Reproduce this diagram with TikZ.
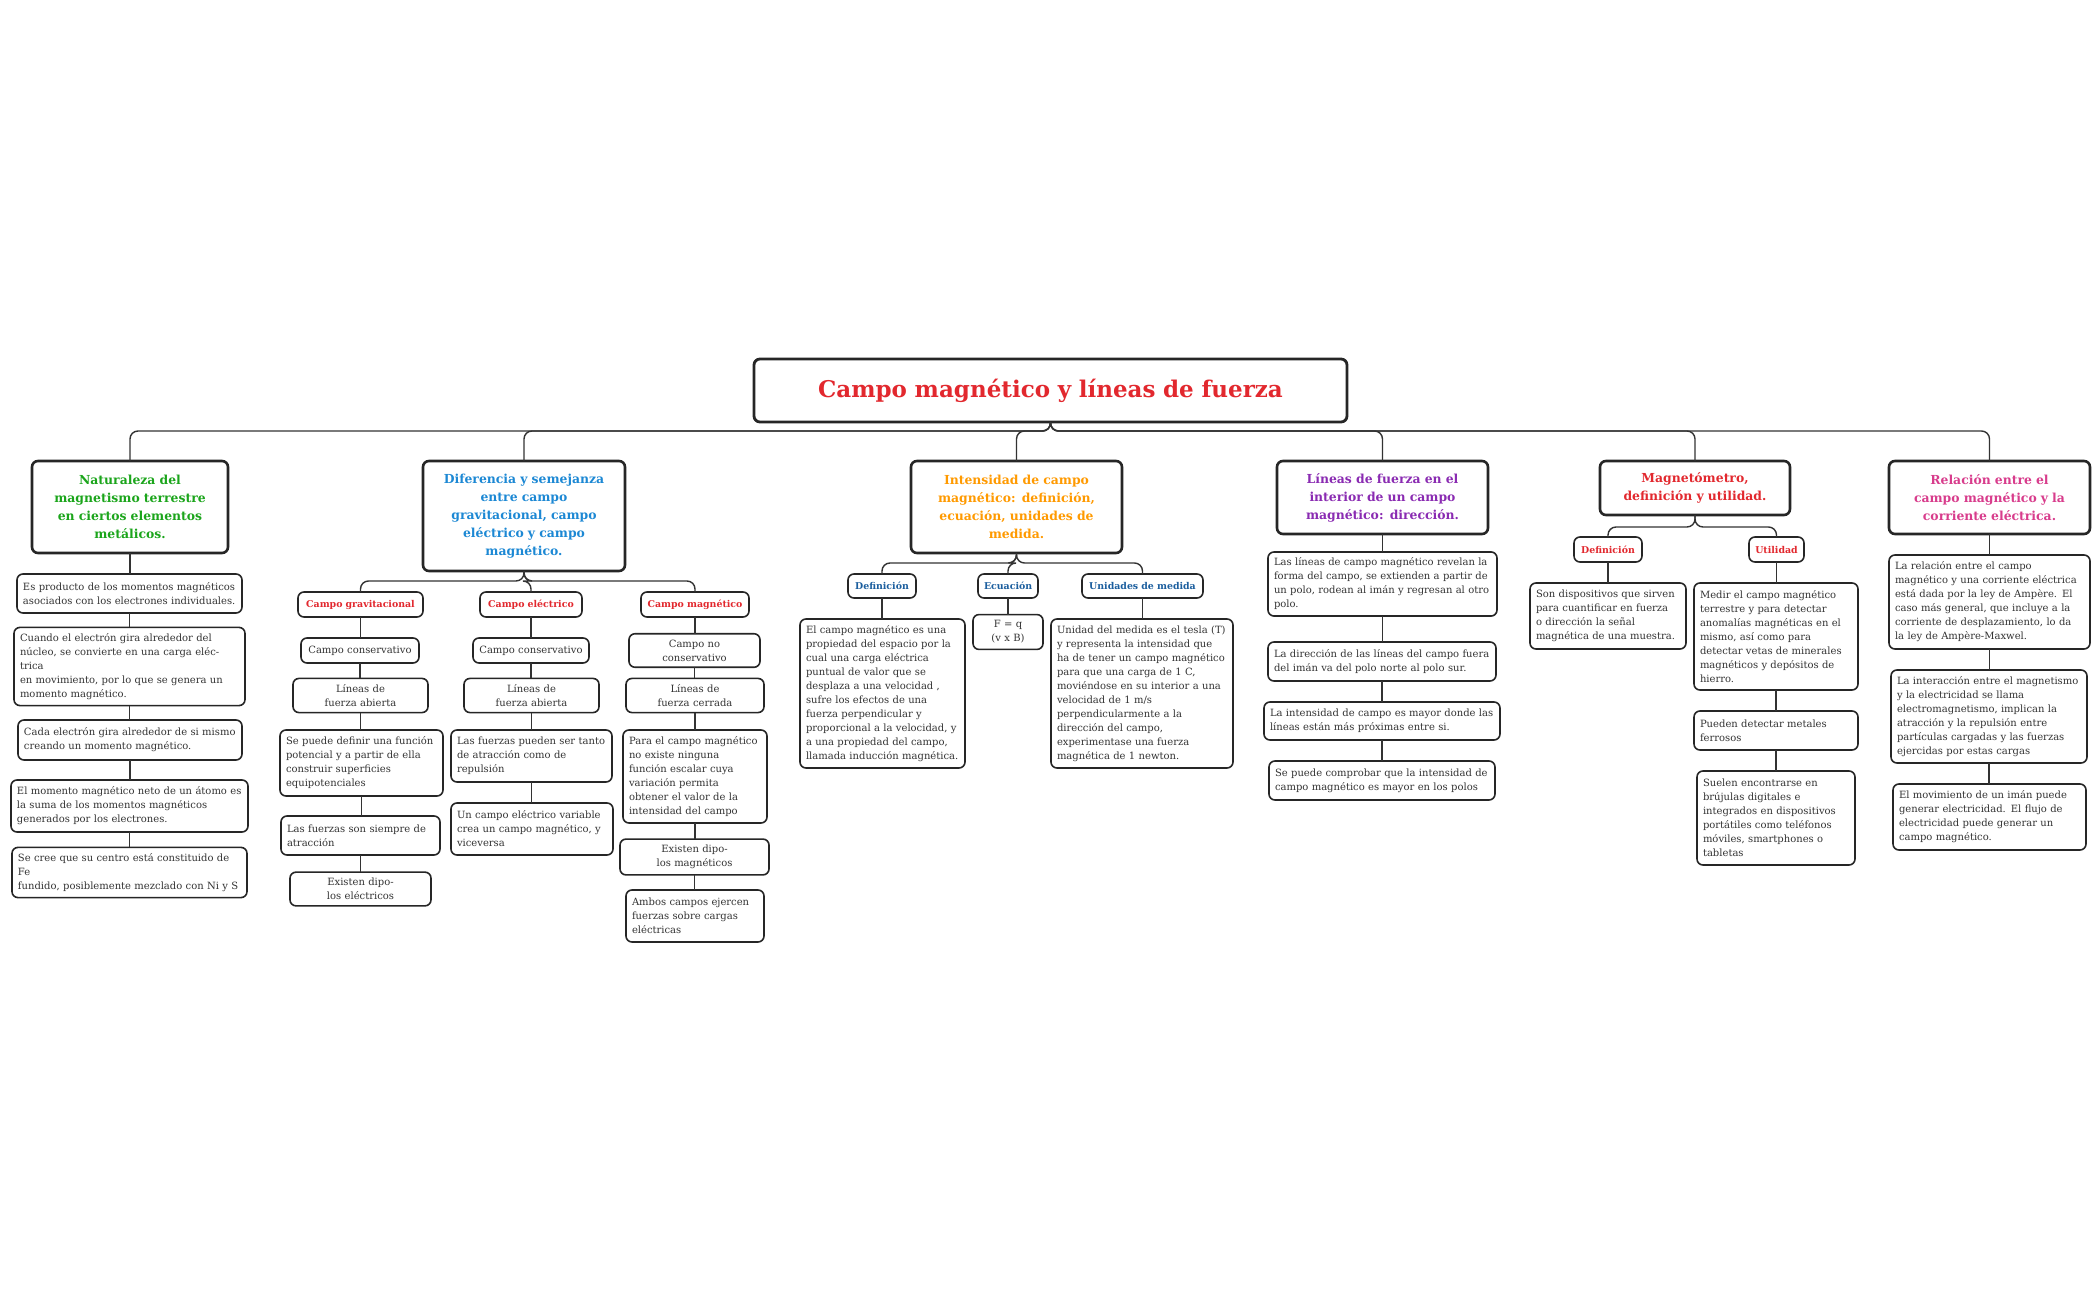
\documentclass[tikz,border=0pt]{standalone}
\usepackage{fontspec}
\setmainfont{DejaVu Serif}
\definecolor{cgreen}{HTML}{1BA51B}
\definecolor{cblue}{HTML}{1C88D4}
\definecolor{corange}{HTML}{FF9A00}
\definecolor{cpurple}{HTML}{8A2BB2}
\definecolor{cred}{HTML}{E2282E}
\definecolor{cpink}{HTML}{D83C8C}
\definecolor{cdblue}{HTML}{1B5E9E}
\definecolor{ctext}{HTML}{333333}
\tikzset{
 box/.style={draw=black!85,rounded corners=3pt,line width=0.8pt,inner sep=3pt,outer sep=0pt,fill=white,align=left,text=ctext,font=\fontsize{5}{7}\selectfont},
 head/.style={line width=1.3pt,align=center,font=\bfseries\fontsize{6.2}{9}\selectfont},
 sub/.style={align=center,font=\bfseries\fontsize{4.7}{6}\selectfont},
 conn/.style={draw=black!80,line width=0.7pt,rounded corners=4pt},
}
\newcommand\bx[7][]{%
 \pgfmathsetmacro\bw{(#4-#3)*0.5}\pgfmathsetmacro\bh{(#6-#5)*0.5}%
 \pgfmathsetmacro\tw{(#4-#3)*0.5-6}%
 \node[box,#1,minimum width=\bw pt,minimum height=\bh pt,text width=\tw pt] (#2) at ({(#3+#4)/2},{(#5+#6)/2}) {#7};}
\newcommand\chain[2]{\draw[conn] (#1.south) -- (#1.south |- #2.north);}
\newcommand\branch[3]{\coordinate (bb) at (0,#3);\draw[conn] (#1.south) -- (#1.south |- bb) -| (#2.north);}
\begin{document}
\begin{tikzpicture}[x=0.5pt,y=-0.5pt]
\useasboundingbox[fill=white] (0,0) rectangle (2100,1300);
% title
\bx[line width=1.4pt,align=center,font=\bfseries\fontsize{11.5}{14}\selectfont,text=cred]{title}{754}{1347}{359}{422}{Campo magnético y líneas de fuerza}
% main headings
\bx[head,text=cgreen]{m1}{32}{228}{461}{553}{Naturaleza del\\magnetismo terrestre\\en ciertos elementos\\metálicos.}
\bx[head,text=cblue]{m2}{423}{625}{461}{571}{Diferencia y semejanza\\entre campo\\gravitacional, campo\\eléctrico y campo\\magnético.}
\bx[head,text=corange]{m3}{911}{1122}{461}{553}{Intensidad de campo\\magnético: definición,\\ecuación, unidades de\\medida.}
\bx[head,text=cpurple]{m4}{1277}{1488}{461}{534}{Líneas de fuerza en el\\interior de un campo\\magnético: dirección.}
\bx[head,text=cred]{m5}{1600}{1790}{461}{515}{Magnetómetro,\\definición y utilidad.}
\bx[head,text=cpink]{m6}{1889}{2090}{461}{534}{Relación entre el\\campo magnético y la\\corriente eléctrica.}
\foreach \m in {m1,m2,m3,m4,m5,m6}{\branch{title}{\m}{431}}
% column 1
\bx{a1}{17}{242}{574}{613}{Es producto de los momentos magnéticos\\asociados con los electrones individuales.}
\bx{a2}{14}{245}{633}{700}{Cuando el electrón gira alrededor del\\núcleo, se convierte en una carga eléctrica\\en movimiento, por lo que se genera un\\momento magnético.}
\bx{a3}{18}{242}{720}{760}{Cada electrón gira alrededor de si mismo\\creando un momento magnético.}
\bx{a4}{11}{248}{780}{832}{El momento magnético neto de un átomo es\\la suma de los momentos magnéticos\\generados por los electrones.}
\bx{a5}{12}{247}{853}{892}{Se cree que su centro está constituido de Fe\\fundido, posiblemente mezclado con Ni y S}
\chain{m1}{a1}\chain{a1}{a2}\chain{a2}{a3}\chain{a3}{a4}\chain{a4}{a5}
% column 2
\bx[sub,text=cred]{g0}{298}{423}{592}{617}{Campo gravitacional}
\bx[sub,text=cred]{e0}{480}{582}{592}{617}{Campo eléctrico}
\bx[sub,text=cred]{k0}{641}{749}{592}{617}{Campo magnético}
\foreach \m in {g0,e0,k0}{\branch{m2}{\m}{581}}
\bx[align=center]{g1}{301}{419}{638}{663}{Campo conservativo}
\bx[align=center]{g2}{293}{428}{683}{708}{Líneas de fuerza abierta}
\bx{g3}{280}{443}{730}{796}{Se puede definir una función\\potencial y a partir de ella\\construir superficies\\equipotenciales}
\bx{g4}{281}{440}{816}{855}{Las fuerzas son siempre de\\atracción}
\bx[align=center]{g5}{290}{431}{876}{902}{Existen dipolos eléctricos}
\chain{g0}{g1}\chain{g1}{g2}\chain{g2}{g3}\chain{g3}{g4}\chain{g4}{g5}
\bx[align=center]{e1}{473}{589}{638}{663}{Campo conservativo}
\bx[align=center]{e2}{464}{599}{683}{708}{Líneas de fuerza abierta}
\bx{e3}{451}{612}{730}{782}{Las fuerzas pueden ser tanto\\de atracción como de\\repulsión}
\bx{e4}{451}{613}{803}{855}{Un campo eléctrico variable\\crea un campo magnético, y\\viceversa}
\chain{e0}{e1}\chain{e1}{e2}\chain{e2}{e3}\chain{e3}{e4}
\bx[align=center]{k1}{629}{760}{638}{663}{Campo no conservativo}
\bx[align=center]{k2}{626}{764}{683}{708}{Líneas de fuerza cerrada}
\bx{k3}{623}{767}{730}{823}{Para el campo magnético\\no existe ninguna\\función escalar cuya\\variación permita\\obtener el valor de la\\intensidad del campo}
\bx[align=center]{k4}{620}{769}{845}{869}{Existen dipolos magnéticos}
\bx{k5}{626}{764}{890}{942}{Ambos campos ejercen\\fuerzas sobre cargas\\eléctricas}
\chain{k0}{k1}\chain{k1}{k2}\chain{k2}{k3}\chain{k3}{k4}\chain{k4}{k5}
% column 3
\bx[sub,text=cdblue]{d0}{848}{916}{574}{598}{Definición}
\bx[sub,text=cdblue]{q0}{978}{1038}{574}{598}{Ecuación}
\bx[sub,text=cdblue]{u0}{1082}{1203}{574}{598}{Unidades de medida}
\foreach \m in {d0,q0,u0}{\branch{m3}{\m}{563}}
\bx{d1}{800}{965}{619}{768}{El campo magnético es una\\propiedad del espacio por la\\cual una carga eléctrica\\puntual de valor que se\\desplaza a una velocidad ,\\sufre los efectos de una\\fuerza perpendicular y\\proporcional a la velocidad, y\\a una propiedad del campo,\\llamada inducción magnética.}
\bx[align=center]{q1}{973}{1043}{619}{645}{F = q (v x B)}
\bx{u1}{1051}{1233}{619}{768}{Unidad del medida es el tesla (T)\\y representa la intensidad que\\ha de tener un campo magnético\\para que una carga de 1 C,\\moviéndose en su interior a una\\velocidad de 1 m/s\\perpendicularmente a la\\dirección del campo,\\experimentase una fuerza\\magnética de 1 newton.}
\chain{d0}{d1}\chain{q0}{q1}\chain{u0}{u1}
% column 4
\bx{l1}{1268}{1497}{555}{613}{Las líneas de campo magnético revelan la\\forma del campo, se extienden a partir de\\un polo, rodean al imán y regresan al otro\\polo.}
\bx{l2}{1268}{1496}{642}{681}{La dirección de las líneas del campo fuera\\del imán va del polo norte al polo sur.}
\bx{l3}{1264}{1500}{702}{740}{La intensidad de campo es mayor donde las\\líneas están más próximas entre si.}
\bx{l4}{1269}{1495}{761}{800}{Se puede comprobar que la intensidad de\\campo magnético es mayor en los polos}
\chain{m4}{l1}\chain{l1}{l2}\chain{l2}{l3}\chain{l3}{l4}
% column 5
\bx[sub,text=cred]{n0}{1574}{1642}{537}{562}{Definición}
\bx[sub,text=cred]{t0}{1749}{1804}{537}{562}{Utilidad}
\foreach \m in {n0,t0}{\branch{m5}{\m}{527}}
\bx{n1}{1530}{1686}{583}{649}{Son dispositivos que sirven\\para cuantificar en fuerza\\o dirección la señal\\magnética de una muestra.}
\bx{t1}{1694}{1858}{583}{690}{Medir el campo magnético\\terrestre y para detectar\\anomalías magnéticas en el\\mismo, así como para\\detectar vetas de minerales\\magnéticos y depósitos de\\hierro.}
\bx{t2}{1694}{1858}{711}{750}{Pueden detectar metales\\ferrosos}
\bx{t3}{1697}{1855}{771}{865}{Suelen encontrarse en\\brújulas digitales e\\integrados en dispositivos\\portátiles como teléfonos\\móviles, smartphones o\\tabletas}
\chain{n0}{n1}\chain{t0}{t1}\chain{t1}{t2}\chain{t2}{t3}
% column 6
\bx{r1}{1889}{2090}{555}{649}{La relación entre el campo\\magnético y una corriente eléctrica\\está dada por la ley de Ampère. El\\caso más general, que incluye a la\\corriente de desplazamiento, lo da\\la ley de Ampère-Maxwel.}
\bx{r2}{1891}{2087}{670}{763}{La interacción entre el magnetismo\\y la electricidad se llama\\electromagnetismo, implican la\\atracción y la repulsión entre\\partículas cargadas y las fuerzas\\ejercidas por estas cargas}
\bx{r3}{1893}{2086}{784}{850}{El movimiento de un imán puede\\generar electricidad. El flujo de\\electricidad puede generar un\\campo magnético.}
\chain{m6}{r1}\chain{r1}{r2}\chain{r2}{r3}
\end{tikzpicture}
\end{document}
